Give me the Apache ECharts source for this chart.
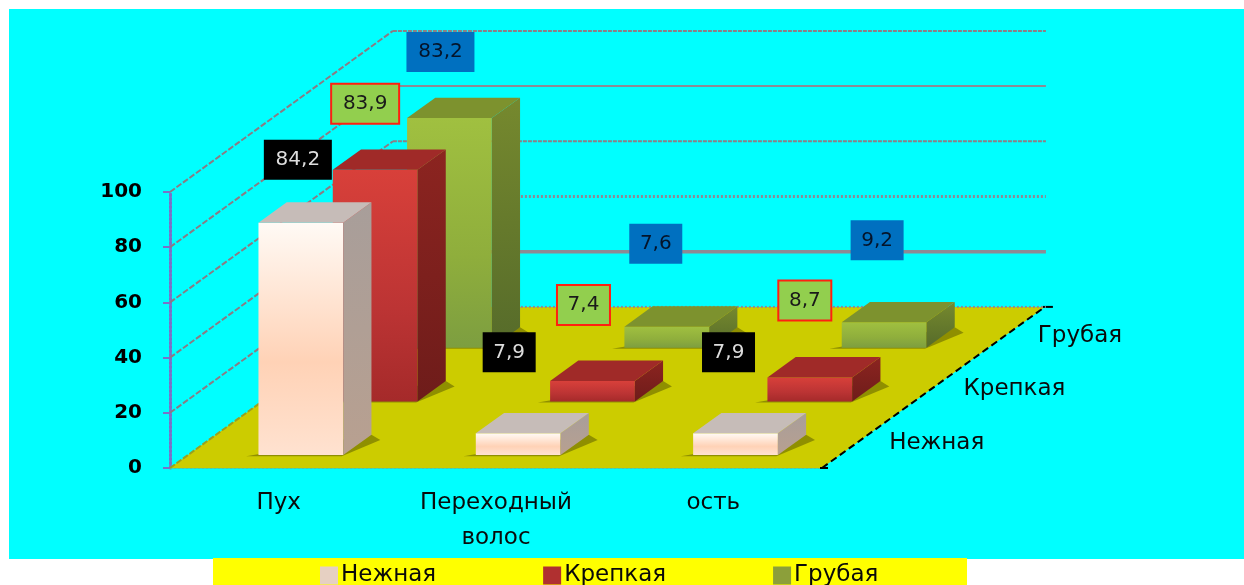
<!DOCTYPE html>
<html>
<head>
<meta charset="utf-8">
<style>
  html, body { margin: 0; padding: 0; background: #fff; }
  #chart { width: 1244px; height: 585px; }
</style>
<script src="https://cdn.jsdelivr.net/npm/echarts@6/dist/echarts.min.js"></script>
</head>
<body>
<div id="chart"></div>
<script>
var categories = ['Пух', 'Переходный\nволос', 'ость'];
var depthNames = ['Нежная', 'Крепкая', 'Грубая'];
var yTicks = [0, 20, 40, 60, 80, 100];
var nezhnaya = [84.2, 7.9, 7.9];
var krepkaya = [83.9, 7.4, 8.7];
var grubaya = [83.2, 7.6, 9.2];

// oblique projection, px per depth row
var depthX = 74.3;
var depthY = 53.7;
var barFrom = 0.325, barTo = 0.715;
var rowFrom = 0.24, rowTo = 0.62;
var fontName = '"DejaVu Sans", sans-serif';

// gridline look per tick, 0 to 100
var gridStyles = [
  { stroke: '#8d8a94', lineWidth: 2, lineDash: [2, 2] },
  { stroke: '#8d8a94', lineWidth: 3.5 },
  { stroke: '#8d8a94', lineWidth: 3, lineDash: [2, 2] },
  { stroke: '#8a8088', lineWidth: 2, lineDash: [4, 1] },
  { stroke: '#8d8a94', lineWidth: 2 },
  { stroke: '#8a8088', lineWidth: 2, lineDash: [4, 1] }
];

function grad(a, b, c) {
  var stops = [{ offset: 0, color: a }, { offset: 1, color: c || b }];
  if (c) stops.splice(1, 0, { offset: 0.6, color: b });
  return new echarts.graphic.LinearGradient(0, 0, 0, 1, stops);
}

// category + fraction across band, depth row, value -> pixel through the axes
function proj(api, cat, frac, depth, val) {
  var c = api.coord([cat, val]);
  var band = api.size([1, 0])[0];
  return [c[0] + band * (frac - 0.5) + depth * depthX, c[1] - depth * depthY];
}

function poly(points, fill, extra) {
  var el = { type: 'polygon', shape: { points: points }, style: { fill: fill } };
  if (extra) el.z2 = extra;
  return el;
}

function barSeries(name, values, row, z, legendColor, look) {
  return {
    type: 'custom',
    name: name,
    z: z,
    clip: false,
    itemStyle: { color: legendColor },
    encode: { x: 0, y: 1 },
    data: values.map(function(v, i) { return [i, v]; }),
    renderItem: function(params, api) {
      var cat = api.value(0);
      var v = api.value(1);
      var d0 = row + rowFrom, d1 = row + rowTo;
      var a = proj(api, cat, barFrom, d0, 0);
      var b = proj(api, cat, barTo, d0, 0);
      var c = proj(api, cat, barTo, d1, 0);
      var e = proj(api, cat, barTo, d0, v);
      var f = proj(api, cat, barFrom, d0, v);
      var g = proj(api, cat, barFrom, d1, v);
      var h = proj(api, cat, barTo, d1, v);
      var shadow = [
        proj(api, cat, barFrom - 0.05, d0 - 0.02, 0),
        proj(api, cat, barTo, d0 - 0.02, 0),
        proj(api, cat, barTo + 0.075, d1 - 0.1, 0),
        c
      ];
      return {
        type: 'group',
        children: [
          poly(shadow, '#8f8f00'),
          poly([a, b, e, f], look.front),
          poly([b, c, h, e], look.side),
          poly([f, e, h, g], look.top)
        ]
      };
    }
  };
}

// label box offset from the bar's front top centre, per series and category
var labelShift = [
  [[-3, -63], [-9, -81], [-7, -81]],
  [[-10, -66], [-9, -76], [-5, -77]],
  [[-9, -66], [-11, -83], [-7, -82]]
];
var labelLook = [
  { fill: '#000000', text: '#dddddd', stroke: null },
  { fill: '#92cf4e', text: '#1a1a1a', stroke: '#ff2010' },
  { fill: '#0070c0', text: '#04142a', stroke: null }
];

function labelSeries(values, row) {
  return {
    type: 'custom',
    name: 'labels' + row,
    z: 20,
    clip: false,
    silent: true,
    encode: { x: 0, y: 1 },
    data: values.map(function(v, i) { return [i, v]; }),
    renderItem: function(params, api) {
      var cat = api.value(0);
      var v = api.value(1);
      var p = proj(api, cat, (barFrom + barTo) / 2, row + rowFrom, v);
      var shift = labelShift[row][cat];
      var look = labelLook[row];
      var w = v > 10 ? 68 : 53, h = 40;
      var x = p[0] + shift[0], y = p[1] + shift[1];
      return {
        type: 'group',
        children: [
          {
            type: 'rect',
            shape: { x: x - w / 2, y: y - h / 2, width: w, height: h },
            style: { fill: look.fill, stroke: look.stroke, lineWidth: look.stroke ? 2 : 0 }
          },
          {
            type: 'text',
            z2: 5,
            style: {
              x: x, y: y,
              text: String(v).replace('.', ','),
              fill: look.text,
              font: '20px ' + fontName,
              align: 'center',
              verticalAlign: 'middle'
            }
          }
        ]
      };
    }
  };
}

var series = [
  {
    type: 'custom',
    name: 'floor',
    z: 1,
    clip: false,
    silent: true,
    encode: { x: 0, y: 1 },
    data: [[0, 0]],
    renderItem: function(params, api) {
      var fl = proj(api, 0, 0, 0, 0);
      var fr = proj(api, 0, 3, 0, 0);
      var br = proj(api, 0, 3, 3, 0);
      var bl = proj(api, 0, 0, 3, 0);
      return {
        type: 'group',
        children: [
          poly([fl, fr, br, bl], '#cccc00'),
          {
            type: 'line',
            shape: { x1: fr[0], y1: fr[1], x2: br[0], y2: br[1] },
            style: { stroke: '#000', lineWidth: 2, lineDash: [7, 4] }
          },
          {
            type: 'line',
            shape: { x1: fr[0] - 2, y1: fr[1], x2: fr[0] + 6, y2: fr[1] },
            style: { stroke: '#000', lineWidth: 2 }
          },
          {
            type: 'line',
            shape: { x1: br[0] - 2, y1: br[1], x2: br[0] + 8, y2: br[1] },
            style: { stroke: '#000', lineWidth: 2 }
          }
        ]
      };
    }
  },
  {
    type: 'custom',
    name: 'walls',
    z: 2,
    clip: false,
    silent: true,
    encode: { x: 0, y: 1 },
    data: yTicks.map(function(t) { return [0, t]; }),
    renderItem: function(params, api) {
      var t = api.value(1);
      var a = proj(api, 0, 0, 0, t);
      var b = proj(api, 0, 0, 3, t);
      var c = proj(api, 0, 3, 3, t);
      return {
        type: 'group',
        children: [
          {
            type: 'line',
            shape: { x1: a[0], y1: a[1], x2: b[0], y2: b[1] },
            style: { stroke: t === 0 ? '#98a020' : '#8a7c84', lineWidth: 2, lineDash: [6, 2] }
          },
          {
            type: 'line',
            shape: { x1: b[0], y1: b[1], x2: c[0] + 1, y2: c[1] },
            style: gridStyles[params.dataIndex]
          }
        ]
      };
    }
  },
  {
    type: 'custom',
    name: 'depthLabels',
    z: 3,
    clip: false,
    silent: true,
    encode: { x: 0, y: 1 },
    data: depthNames.map(function() { return [0, 0]; }),
    renderItem: function(params, api) {
      var p = proj(api, 0, 3, params.dataIndex + 0.5, 0);
      return {
        type: 'text',
        style: {
          x: p[0] + 30, y: p[1] + 2,
          text: depthNames[params.dataIndex],
          fill: '#0a0a0a',
          font: '23px ' + fontName,
          verticalAlign: 'middle'
        }
      };
    }
  },
  barSeries('Грубая', grubaya, 2, 5, '#8c9f3a', {
    front: grad('#a0c040', '#8fae3c', '#7d9e40'),
    side: grad('#76892e', '#566b2a'),
    top: '#7d922e'
  }),
  barSeries('Крепкая', krepkaya, 1, 6, '#b03030', {
    front: grad('#d8403a', '#bc3434', '#a52a2a'),
    side: grad('#8c2420', '#6e1c1a'),
    top: '#a02a28'
  }),
  barSeries('Нежная', nezhnaya, 0, 7, '#e6d0c2', {
    front: grad('#fffaf5', '#ffd2b6', '#ffe2d0'),
    side: grad('#a89e9a', '#b8a090'),
    top: '#c6bcb8'
  }),
  labelSeries(nezhnaya, 0),
  labelSeries(krepkaya, 1),
  labelSeries(grubaya, 2)
];

var chart = echarts.init(document.getElementById('chart'));
chart.setOption({
  animation: false,
  backgroundColor: '#ffffff',
  graphic: [
    { type: 'rect', z: -10, shape: { x: 9, y: 9, width: 1235, height: 550 }, style: { fill: '#00ffff' } },
    { type: 'rect', z: -10, shape: { x: 213, y: 558, width: 754, height: 27 }, style: { fill: '#ffff00' } }
  ],
  grid: { left: 170, top: 192, width: 652, height: 276 },
  legend: {
    data: depthNames,
    left: 320,
    top: 564,
    padding: 0,
    itemWidth: 18,
    itemHeight: 18,
    itemGap: 107,
    icon: 'rect',
    textStyle: { fontFamily: fontName, fontSize: 23, color: '#0a0a0a', padding: [0, 0, 0, -2] }
  },
  xAxis: {
    type: 'category',
    data: categories,
    axisLine: { show: true, lineStyle: { color: '#55c8a0', width: 2, type: [2, 2] } },
    axisTick: { show: false },
    axisLabel: {
      margin: 18,
      interval: 0,
      lineHeight: 35,
      color: '#0a0a0a',
      fontFamily: fontName,
      fontSize: 23
    }
  },
  yAxis: {
    type: 'value',
    min: 0,
    max: 100,
    interval: 20,
    splitLine: { show: false },
    axisLine: { show: true, lineStyle: { color: '#7a70c8', width: 3, type: [2, 2] } },
    axisTick: { show: true, length: 7, lineStyle: { color: '#7a70c8', width: 2 } },
    axisLabel: {
      margin: 28,
      padding: [4, 0, 0, 0],
      color: '#000000',
      fontFamily: fontName,
      fontWeight: 'bold',
      fontSize: 20
    }
  },
  series: series
});
</script>
</body>
</html>
